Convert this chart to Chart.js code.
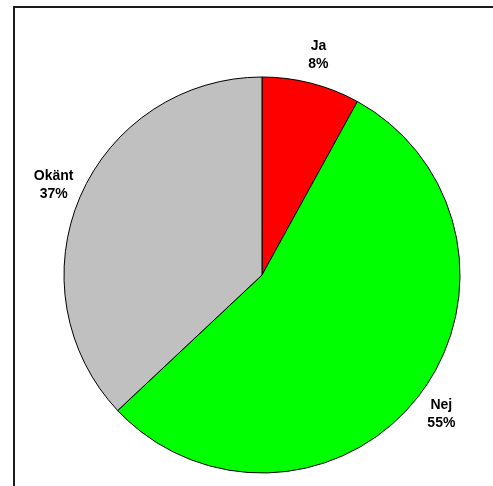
<!DOCTYPE html>
<html>
<head>
<meta charset="utf-8">
<script src="https://cdn.jsdelivr.net/npm/chart.js@4/dist/chart.umd.min.js"></script>
<style>
  html, body { margin: 0; padding: 0; background: #fff; }
  #wrap { width: 493px; height: 486px; }
</style>
</head>
<body>
<div id="wrap"><canvas id="c" width="493" height="486"></canvas></div>
<script>
// Answer categories and their shares (percent)
const categories = ['Ja', 'Nej', 'Okänt'];
const shares = [8, 55, 37];
const sliceColors = ['#ff0000', '#00ff00', '#c0c0c0'];

// Outer frame around the plot area
const framePlugin = {
  id: 'frame',
  beforeDraw(chart) {
    const ctx = chart.ctx;
    ctx.save();
    ctx.fillStyle = '#ffffff';
    ctx.fillRect(0, 0, chart.width, chart.height);
    ctx.strokeStyle = '#1a1a1a';
    ctx.lineWidth = 2;
    ctx.strokeRect(14, 7, 700, 700);
    ctx.restore();
  }
};

// Category name and percentage placed just outside each slice
const sliceLabels = {
  id: 'sliceLabels',
  afterDatasetsDraw(chart) {
    const ctx = chart.ctx;
    const meta = chart.getDatasetMeta(0);
    const total = shares.reduce((a, b) => a + b, 0);
    ctx.save();
    ctx.font = 'bold 14px "Liberation Sans", Arial, sans-serif';
    ctx.fillStyle = '#000';
    ctx.textAlign = 'center';
    ctx.textBaseline = 'middle';
    meta.data.forEach((arc, i) => {
      const mid = (arc.startAngle + arc.endAngle) / 2;
      const r = arc.outerRadius + 29;
      const x = arc.x + Math.cos(mid) * r;
      const y = arc.y + Math.sin(mid) * r;
      const pct = Math.round(shares[i] / total * 100) + '%';
      ctx.fillText(categories[i], x, y - 9);
      ctx.fillText(pct, x, y + 9.5);
    });
    ctx.restore();
  }
};

new Chart(document.getElementById('c'), {
  type: 'pie',
  data: {
    labels: categories,
    datasets: [{
      data: shares,
      backgroundColor: sliceColors,
      borderColor: '#000',
      borderWidth: 1
    }]
  },
  options: {
    responsive: false,
    animation: false,
    radius: 198,
    layout: { padding: { left: 40, right: 9, top: 70, bottom: 6 } },
    plugins: {
      legend: { display: false },
      tooltip: { enabled: false },
      title: { display: false }
    }
  },
  plugins: [framePlugin, sliceLabels]
});
</script>
</body>
</html>
